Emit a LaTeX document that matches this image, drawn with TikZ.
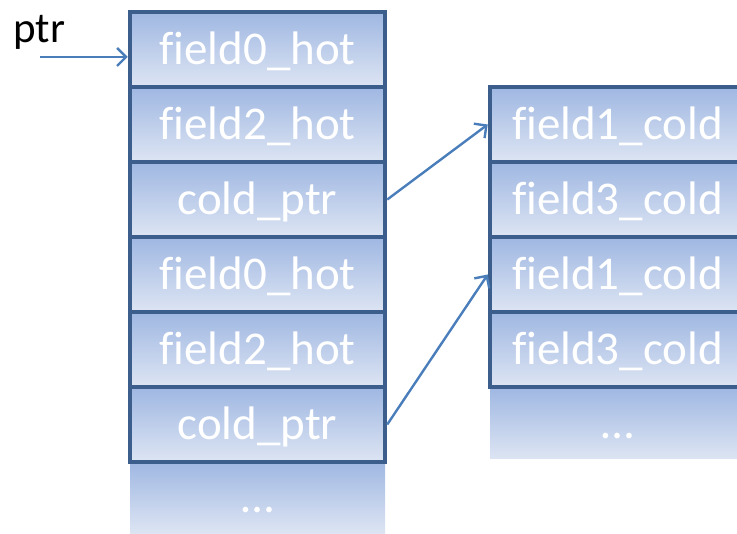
\documentclass[tikz,border=0pt]{standalone}
\usepackage{fontspec}
\setmainfont[Ligatures=CommonOff]{Carlito}
\usetikzlibrary{arrows.meta}
\definecolor{cellborder}{HTML}{3B5E8C}
\definecolor{celltop}{HTML}{9FB7E2}
\definecolor{cellbot}{HTML}{DDE5F3}
\definecolor{linkblue}{HTML}{4A7EBB}
\tikzset{
  cellbase/.style={rectangle, inner sep=0pt, minimum width=255pt, minimum height=75pt,
    text height=31pt, text depth=0pt,
    top color=celltop, bottom color=cellbot, text=white,
    font=\fontsize{47}{52}\selectfont},
  cell/.style={cellbase, draw=cellborder, line width=4.5pt},
  tailcell/.style={cellbase, minimum height=72pt},
  link/.style={draw=linkblue, line width=2.4pt, -{Straight Barb[length=9pt, width=18pt, line width=2.4pt]}}
}
\begin{document}
\begin{tikzpicture}[x=1pt, y=-1pt]
\useasboundingbox (0,0) rectangle (737,534);
% hot record array
\node[tailcell] (hotmore) at (257.5,497.5) {…};
\node[cell] (hot0) at (257.5,49.5) {field0\_hot};
\node[cell] (hot2) at (257.5,124.5) {field2\_hot};
\node[cell] (cptr1) at (257.5,199.5) {cold\_ptr};
\node[cell] (hot0b) at (257.5,274.5) {field0\_hot};
\node[cell] (hot2b) at (257.5,349.5) {field2\_hot};
\node[cell] (cptr2) at (257.5,424.5) {cold\_ptr};
% cold record array
\node[tailcell] (coldmore) at (617.5,423) {…};
\node[cell] (cold1) at (617.5,124.5) {field1\_cold};
\node[cell] (cold3) at (617.5,199.5) {field3\_cold};
\node[cell] (cold1b) at (617.5,274.5) {field1\_cold};
\node[cell] (cold3b) at (617.5,349.5) {field3\_cold};
% pointer label and links
\node[anchor=base west, inner sep=0pt, font=\fontsize{43}{48}\selectfont] (ptrlabel) at (13,43) {ptr};
\coordinate (ptrtail) at (40,57);
\draw[link] (ptrtail) -- (ptrtail -| hot0.west);
\draw[link] (cptr1.east) -- (cold1.west);
\draw[link] (cptr2.east) -- (cold1b.west);
\end{tikzpicture}
\end{document}
